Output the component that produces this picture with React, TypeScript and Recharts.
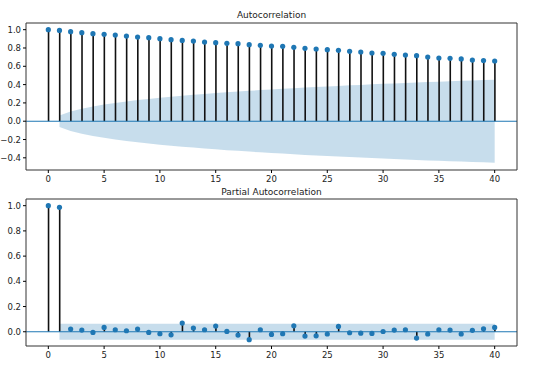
import {
  ComposedChart,
  Bar,
  Scatter,
  Area,
  XAxis,
  YAxis,
  ReferenceLine,
} from "recharts";

const lags = [
  0, 1, 2, 3, 4, 5, 6, 7, 8, 9, 10, 11, 12, 13, 14, 15, 16, 17, 18, 19, 20,
  21, 22, 23, 24, 25, 26, 27, 28, 29, 30, 31, 32, 33, 34, 35, 36, 37, 38, 39, 40,
];

const acfValues = [
  1.0, 0.992, 0.978, 0.967, 0.956, 0.949, 0.941, 0.93, 0.919, 0.913, 0.902,
  0.891, 0.883, 0.876, 0.865, 0.858, 0.851, 0.847, 0.836, 0.829, 0.821,
  0.818, 0.807, 0.796, 0.789, 0.782, 0.774, 0.763, 0.756, 0.745, 0.742,
  0.731, 0.723, 0.716, 0.701, 0.69, 0.687, 0.68, 0.668, 0.662, 0.658,
];

// half-width of the confidence band, lags 1..40
const acfBand = [
  0.062, 0.107, 0.137, 0.161, 0.182, 0.2, 0.216, 0.231, 0.244, 0.256,
  0.268, 0.278, 0.288, 0.298, 0.307, 0.316, 0.324, 0.332, 0.34, 0.347,
  0.354, 0.361, 0.368, 0.374, 0.38, 0.386, 0.392, 0.397, 0.403, 0.408,
  0.413, 0.418, 0.423, 0.428, 0.432, 0.437, 0.441, 0.445, 0.449, 0.453,
];

const pacfValues = [
  1.0, 0.987, 0.021, 0.013, -0.005, 0.034, 0.016, 0.008, 0.021, -0.005, -0.016,
  -0.024, 0.069, 0.029, 0.016, 0.045, 0.003, -0.026, -0.063, 0.016, -0.021,
  -0.016, 0.047, -0.034, -0.032, -0.018, 0.042, -0.008, -0.011, -0.013, 0.002,
  0.013, 0.016, -0.05, -0.018, 0.016, 0.013, -0.018, 0.011, 0.024, 0.034,
];

const pacfBand = 0.063;

const xTicks = [0, 5, 10, 15, 20, 25, 30, 35, 40];
const acfTicks = [-0.4, -0.2, 0, 0.2, 0.4, 0.6, 0.8, 1.0];
const pacfTicks = [0, 0.2, 0.4, 0.6, 0.8, 1.0];

const acfData = lags.map((lag, i) => ({
  lag,
  value: acfValues[i],
  band: i === 0 ? null : [-acfBand[i - 1], acfBand[i - 1]],
}));

const pacfData = lags.map((lag, i) => ({
  lag,
  value: pacfValues[i],
  band: i === 0 ? null : [-pacfBand, pacfBand],
}));

const FONT = "DejaVu Sans";
const BLUE = "#1f77b4";
const FRAME = "#333";
const X_DOMAIN: [number, number] = [-2, 42];
const tickStyle = { fontSize: 8.5, fill: "#222", fontFamily: FONT };

const fmt = (v: number) => {
  const s = Math.abs(v).toFixed(1);
  return v < -1e-9 ? `\u2212${s}` : s;
};

const Dot = (p: any) => <circle cx={p.cx} cy={p.cy} r={2.6} fill={BLUE} />;

function Panel({
  data,
  domain,
  ticks,
  top,
  height,
  marginTop,
}: {
  data: any[];
  domain: [number, number];
  ticks: number[];
  top: number;
  height: number;
  marginTop: number;
}) {
  return (
    <div style={{ position: "absolute", left: 0, top }}>
      <ComposedChart
        width={556}
        height={height}
        data={data}
        margin={{ top: marginTop, right: 39, left: 0, bottom: 0 }}
      >
        <XAxis
          dataKey="lag"
          type="number"
          domain={X_DOMAIN}
          ticks={xTicks}
          allowDataOverflow
          height={15}
          tickSize={3}
          tickMargin={3}
          tick={tickStyle}
          stroke={FRAME}
          tickLine={{ stroke: "#000" }}
        />
        <YAxis
          type="number"
          domain={domain}
          ticks={ticks}
          allowDataOverflow
          width={26}
          tickSize={3}
          tickMargin={2}
          tick={tickStyle}
          tickFormatter={fmt}
          stroke={FRAME}
          tickLine={{ stroke: "#000" }}
        />
        <Bar dataKey="value" barSize={1.6} fill="#111" isAnimationActive={false} />
        <ReferenceLine y={0} stroke={BLUE} strokeWidth={1.1} />
        <Scatter dataKey="value" shape={Dot} isAnimationActive={false} />
        <Area
          dataKey="band"
          type="linear"
          stroke="none"
          fill={BLUE}
          fillOpacity={0.25}
          isAnimationActive={false}
          dot={false}
          activeDot={false}
        />
        {/* top and right spines */}
        <ReferenceLine y={domain[1]} stroke={FRAME} />
        <ReferenceLine x={X_DOMAIN[1]} stroke={FRAME} />
      </ComposedChart>
    </div>
  );
}

const titleStyle = {
  position: "absolute" as const,
  left: 26,
  width: 491,
  textAlign: "center" as const,
  fontFamily: FONT,
  fontSize: 9,
  color: "#222",
  lineHeight: "10px",
};

export default function App() {
  return (
    <div
      style={{
        position: "absolute",
        left: 0,
        top: 0,
        width: 556,
        height: 370,
        background: "#fff",
      }}
    >
      <div style={{ ...titleStyle, top: 10 }}>Autocorrelation</div>
      <Panel
        data={acfData}
        domain={[-0.533, 1.073]}
        ticks={acfTicks}
        top={0}
        height={185}
        marginTop={23}
      />
      <div style={{ ...titleStyle, top: 187 }}>Partial Autocorrelation</div>
      <Panel
        data={pacfData}
        domain={[-0.113, 1.053]}
        ticks={pacfTicks}
        top={185}
        height={176}
        marginTop={14}
      />
    </div>
  );
}
